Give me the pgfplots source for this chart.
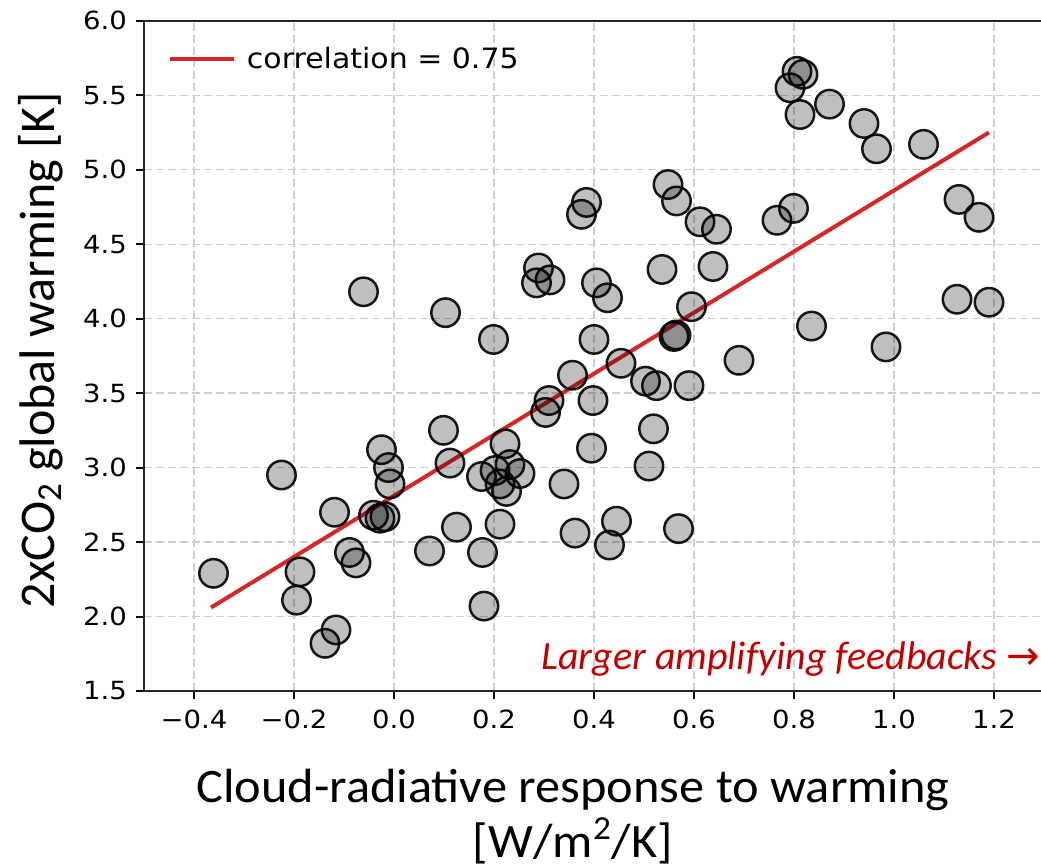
\documentclass[border=0pt]{standalone}
\usepackage{pgfplots}
\pgfplotsset{compat=1.18}
\usepackage{fontspec}
\setmainfont{Carlito}
\newfontfamily\xlabfont[FakeStretch=1.05]{Carlito}
\newfontfamily\dv{DejaVu Sans}
\newfontfamily\dvtick[FakeStretch=1.1]{DejaVu Sans}
\newfontfamily\dvleg[FakeStretch=1.07]{DejaVu Sans}
\definecolor{tabred}{RGB}{214,39,40}
\definecolor{annred}{RGB}{192,0,0}
\definecolor{gridgray}{RGB}{205,205,205}

\pgfplotstableread{
x y
-0.361 2.29
-0.225 2.95
-0.188 2.30
-0.195 2.11
-0.138 1.82
-0.116 1.91
-0.119 2.70
-0.089 2.43
-0.076 2.36
-0.061 4.18
-0.041 2.68
-0.028 2.66
-0.018 2.67
-0.025 3.12
-0.011 3.00
-0.008 2.89
0.071 2.44
0.103 4.04
0.099 3.25
0.112 3.03
0.125 2.60
0.175 2.94
0.177 2.43
0.180 2.07
0.202 2.98
0.199 3.86
0.212 2.62
0.222 3.16
0.212 2.89
0.225 2.84
0.232 3.02
0.252 2.96
0.289 4.34
0.285 4.24
0.312 4.26
0.310 3.45
0.303 3.37
0.340 2.89
0.357 3.62
0.362 2.56
0.385 4.78
0.375 4.70
0.400 3.86
0.395 3.13
0.398 3.45
0.405 4.24
0.427 4.14
0.431 2.48
0.445 2.64
0.454 3.70
0.503 3.58
0.510 3.01
0.519 3.26
0.525 3.55
0.536 4.33
0.548 4.90
0.560 3.88
0.564 3.89
0.565 4.79
0.569 2.59
0.595 4.08
0.590 3.55
0.612 4.65
0.645 4.60
0.638 4.35
0.690 3.72
0.766 4.66
0.799 4.74
0.792 5.55
0.806 5.66
0.818 5.64
0.812 5.37
0.835 3.95
0.871 5.44
0.940 5.31
0.965 5.14
0.984 3.81
1.059 5.17
1.130 4.80
1.126 4.13
1.170 4.68
1.190 4.11
}\scatterdata

\begin{document}
\begin{tikzpicture}
\begin{axis}[
  at={(72pt,88.5pt)}, anchor=south west,
  scale only axis, width=450pt, height=335.15pt,
  xmin=-0.5, xmax=1.3, ymin=1.5, ymax=6.0,
  xtick={-0.4,-0.2,0,0.2,0.4,0.6,0.8,1.0,1.2},
  xticklabels={−0.4,−0.2,0.0,0.2,0.4,0.6,0.8,1.0,1.2},
  ytick={1.5,2.0,2.5,3.0,3.5,4.0,4.5,5.0,5.5,6.0},
  yticklabels={1.5,2.0,2.5,3.0,3.5,4.0,4.5,5.0,5.5,6.0},
  tick label style={font=\dvtick\fontsize{12.5pt}{14pt}\selectfont},
  xticklabel style={yshift=-2pt},
  yticklabel style={xshift=-1pt},
  tick align=outside, tick pos=left,
  major tick length=4pt,
  every tick/.style={black, line width=1pt},
  axis line style={line width=1.1pt, black!85},
  grid=major,
  major grid style={gridgray, line width=0.6pt, dash pattern=on 4pt off 2pt},
  legend style={draw=none, fill=none, at={(axis description cs:0,1)}, anchor=west,
    xshift=12pt, yshift=-19.15pt, inner sep=0pt, outer sep=0pt,
    font=\dvleg\fontsize{14pt}{16pt}\selectfont, column sep=5.5pt,
    nodes={inner sep=0pt}},
  legend image code/.code={\draw[#1] (0pt,0pt) -- (32pt,0pt);},
]
\addplot[only marks, mark=*, mark size=7.1pt,
  mark options={draw=black, fill=black, fill opacity=0.25, draw opacity=0.9, line width=1.25pt},
  forget plot] table {\scatterdata};
\addplot[tabred, line width=2pt] coordinates {(-0.366,2.06) (1.19,5.25)};
\addlegendentry{correlation = 0.75}
\end{axis}
\node[anchor=base, inner sep=0pt, align=center, font=\xlabfont\fontsize{24pt}{27.5pt}\selectfont] at (286.5pt,5pt) {Cloud-radiative response to warming\\{}[W/m\textsuperscript{2}/K]};
\node[rotate=90, anchor=base, font=\fontsize{25pt}{30pt}\selectfont] at (27pt,259pt) {2xCO\textsubscript{2} global warming [K]};
\node[anchor=base east, text=annred, font=\itshape\fontsize{20pt}{24pt}\selectfont] at (523.5pt,99pt) {Larger amplifying feedbacks {\upshape\dv →}};
\pgfresetboundingbox
\useasboundingbox (0,0) rectangle (520.5pt,434pt);
\end{tikzpicture}
\end{document}
